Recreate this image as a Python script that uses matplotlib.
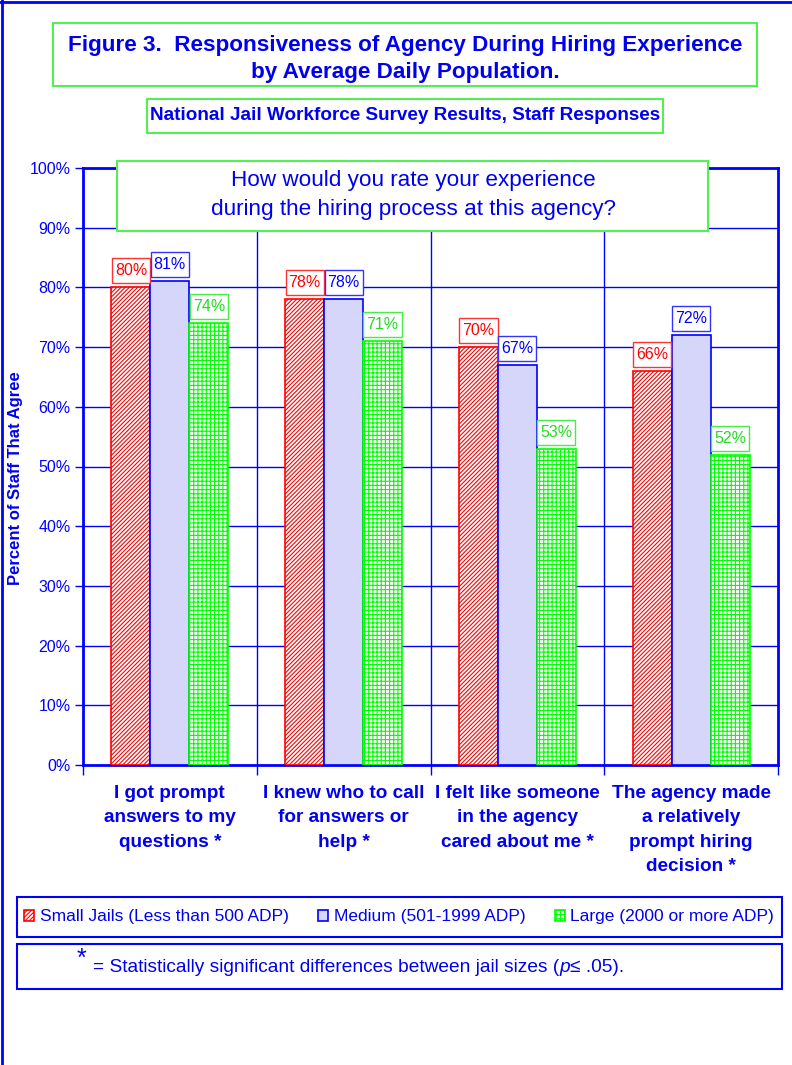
import matplotlib
matplotlib.use("Agg")
import matplotlib.pyplot as plt
import numpy as np
from matplotlib.patches import Rectangle
from matplotlib.lines import Line2D
from matplotlib.transforms import IdentityTransform

plt.rcParams['font.family'] = ['Liberation Sans', 'DejaVu Sans']
plt.rcParams['hatch.linewidth'] = 0.8

categories = ["I got prompt\nanswers to my\nquestions *",
              "I knew who to call\nfor answers or\nhelp *",
              "I felt like someone\nin the agency\ncared about me *",
              "The agency made\na relatively\nprompt hiring\ndecision *"]
series_names = ["Small Jails (Less than 500 ADP)",
                "Medium (501-1999 ADP)",
                "Large (2000 or more ADP)"]
small = [80, 78, 70, 66]
medium = [81, 78, 67, 72]
large = [74, 71, 53, 52]
yticks = [0, 10, 20, 30, 40, 50, 60, 70, 80, 90, 100]

W, H = 792, 1065
fig = plt.figure(figsize=(W / 100, H / 100), dpi=100)

def fx(px):
    return px / W

def fy(py):
    return 1 - py / H

BLUE = '#0000FF'
TXTBLUE = '#0000EE'
RED = '#FF0000'
BOXGREEN = '#55EE55'

# axes
ax_l, ax_r, ax_t, ax_b = 83, 778, 168, 765
ax = fig.add_axes([fx(ax_l), fy(ax_b), fx(ax_r - ax_l), (ax_b - ax_t) / H])

x = np.arange(len(categories))
bw = 0.224
series = [small, medium, large]
offsets = [-bw, 0, bw]
label_colors = [RED, BLUE, '#22DD22']
box_colors = ['#FF3333', '#3333FF', '#44EE44']

ax.bar(x + offsets[0], small, bw, facecolor='white', edgecolor=RED, hatch='////////',
       linewidth=1.2, label=series_names[0], zorder=3)
ax.bar(x + offsets[1], medium, bw, facecolor='#D6D6FA', edgecolor=BLUE,
       linewidth=1.2, label=series_names[1], zorder=3)
ax.bar(x + offsets[2], large, bw, facecolor='white', edgecolor='#00FF00', hatch='++++',
       linewidth=1.2, label=series_names[2], zorder=3)

ax.set_xlim(-0.5, len(categories) - 0.5)
ax.set_ylim(0, 100)

LABEL_H = 25  # px height of value label boxes
GAP = 4       # px gap between bar top and label box
annots = []
for vals, off, col in zip(series, offsets, label_colors):
    for xi, v in zip(x, vals):
        a = ax.annotate(f"{v}%", (xi + off, v),
                        xytext=(0, (GAP + LABEL_H / 2) * 0.72), textcoords='offset points',
                        ha='center', va='center', fontsize=11.5, color=col, zorder=6)
        annots.append(a)

ax.set_yticks(yticks)
ax.set_yticklabels([f"{t}%" for t in yticks], fontsize=11.5, color=BLUE)
ax.set_xticks(np.arange(-0.5, len(categories), 1.0))
ax.set_xticklabels([])
ax.set_xticks(x, minor=True)
ax.tick_params(axis='x', which='major', direction='out', length=7, color=BLUE, width=1)
ax.tick_params(axis='x', which='minor', direction='in', length=5, color=BLUE, width=1)
ax.tick_params(axis='y', direction='out', length=6, color=BLUE, width=1, pad=3)
for s in ax.spines.values():
    s.set_color(BLUE)
    s.set_linewidth(2)
ax.grid(axis='y', color=BLUE, linewidth=1, zorder=0)
for b in np.arange(0.5, len(categories) - 0.5, 1.0):
    ax.axvline(b, color=BLUE, linewidth=1, zorder=0)
ax.set_axisbelow(True)

for xi, lab in zip(x, categories):
    ax.text(xi, -3.4, lab, ha='center', va='top', fontsize=13.7, fontweight='bold',
            color=TXTBLUE, linespacing=1.55, transform=ax.transData)

fig.text(fx(16), fy(478), "Percent of Staff That Agree", rotation=90, ha='center',
         va='center', fontsize=12, fontweight='bold', color=TXTBLUE)

# label boxes sized from the rendered text
fig.canvas.draw()
renderer = fig.canvas.get_renderer()
ci = 0
for vals, off, col in zip(series, offsets, box_colors):
    for xi, v in zip(x, vals):
        a = annots[ci]
        ci += 1
        bb = a.get_window_extent(renderer)
        px, py = ax.transData.transform((xi + off, v))
        wbox = bb.width + 6
        rect = Rectangle((px - wbox / 2, py + GAP), wbox, LABEL_H, transform=IdentityTransform(),
                         facecolor='white', edgecolor=col, linewidth=1.0, zorder=5)
        ax.add_artist(rect)

# figure frame lines
fig.add_artist(Line2D([0, 1], [fy(2), fy(2)], color=BLUE, linewidth=2, transform=fig.transFigure))
fig.add_artist(Line2D([fx(2), fx(2)], [0, 1], color=BLUE, linewidth=2, transform=fig.transFigure))

def box(x0, y0, x1, y1, color, lw=1.5, z=6):
    fig.add_artist(Rectangle((fx(x0), fy(y1)), fx(x1 - x0), (y1 - y0) / H,
                             transform=fig.transFigure, facecolor='white',
                             edgecolor=color, linewidth=lw, zorder=z))

# title
box(53, 23, 757, 86, BOXGREEN)
fig.text(fx(405), fy(59), "Figure 3.  Responsiveness of Agency During Hiring Experience\nby Average Daily Population.",
         ha='center', va='center', fontsize=16.2, fontweight='bold', color=TXTBLUE,
         linespacing=1.4, zorder=7)
box(147, 99, 663, 133, BOXGREEN)
fig.text(fx(405), fy(116), "National Jail Workforce Survey Results, Staff Responses",
         ha='center', va='center', fontsize=13.6, fontweight='bold', color=TXTBLUE, zorder=7)

# question box
box(117, 161, 708, 231, BOXGREEN)
fig.text(fx(413), fy(195), "How would you rate your experience\nduring the hiring process at this agency?",
         ha='center', va='center', fontsize=16.2, color=TXTBLUE, linespacing=1.45, zorder=7)

# legend
box(17, 897, 782, 937, BLUE)
handles, labels = ax.get_legend_handles_labels()
leg = fig.legend(handles, labels, loc='center', bbox_to_anchor=(fx(399), fy(917)),
                 ncol=3, frameon=False, fontsize=12.5, handlelength=0.6, handleheight=0.6,
                 handletextpad=0.3, columnspacing=1.7, borderaxespad=0)
leg.set_zorder(8)
for t in leg.get_texts():
    t.set_color(TXTBLUE)

# footnote
box(17, 944, 782, 989, BLUE)
fig.text(fx(77), fy(959), "*", ha='left', va='center', fontsize=18, color=TXTBLUE, zorder=7)
t1 = fig.text(fx(93), fy(967), "= Statistically significant differences between jail sizes (",
              ha='left', va='center', fontsize=13.8, color=TXTBLUE, zorder=7)
fig.canvas.draw()
bb = t1.get_window_extent()
t2 = fig.text(bb.x1 / W, fy(967), "p", ha='left', va='center', fontsize=13.8,
              color=TXTBLUE, style='italic', zorder=7)
fig.canvas.draw()
bb2 = t2.get_window_extent()
fig.text(bb2.x1 / W, fy(967), "\u2264 .05).", ha='left', va='center', fontsize=13.8,
         color=TXTBLUE, zorder=7)

fig.savefig("out.png", dpi=100)
